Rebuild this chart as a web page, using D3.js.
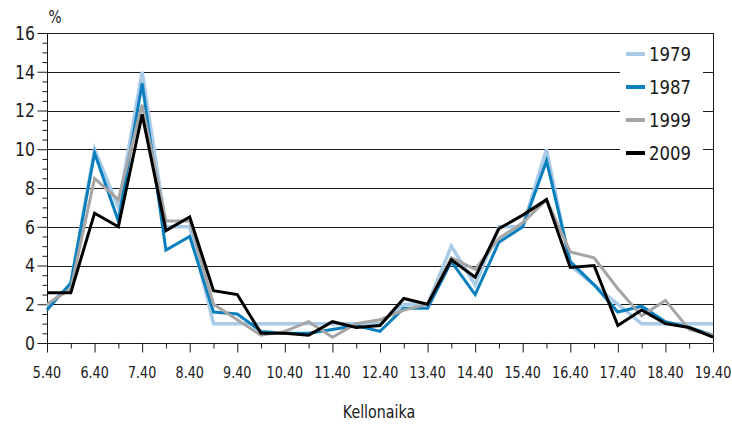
<!DOCTYPE html>
<html>
<head>
<meta charset="utf-8">
<script src="https://cdn.jsdelivr.net/npm/d3@7"></script>
<style>
  html, body { margin: 0; padding: 0; background: #fff; }
  svg text { font-family: "Liberation Sans Narrow", "DejaVu Sans Condensed", "Arial Narrow", sans-serif; fill: #1a1a1a; }
</style>
</head>
<body>
<svg id="chart" width="732" height="425"></svg>
<script>
const times = ["5.40","6.10","6.40","7.10","7.40","8.10","8.40","9.10","9.40","10.10","10.40","11.10","11.40","12.10","12.40","13.10","13.40","14.10","14.40","15.10","15.40","16.10","16.40","17.10","17.40","18.10","18.40","19.10","19.40"];
const tickLabels = ["5.40","6.40","7.40","8.40","9.40","10.40","11.40","12.40","13.40","14.40","15.40","16.40","17.40","18.40","19.40"];
const yTicks = [0,2,4,6,8,10,12,14,16];
const seriesNames = ["1979","1987","1999","2009"];
const v1979 = [1.9,3.0,10.0,7.0,14.0,6.0,6.0,1.0,1.0,1.0,1.0,1.0,1.0,1.0,1.0,2.0,2.0,5.0,3.0,6.0,6.0,10.0,4.0,3.0,2.0,1.0,1.0,1.0,1.0];
const v1987 = [1.7,3.1,9.8,6.3,13.4,4.8,5.5,1.6,1.5,0.6,0.5,0.5,0.7,0.9,0.6,1.8,1.8,4.2,2.5,5.2,6.0,9.4,4.2,3.0,1.6,1.9,1.1,0.8,0.4];
const v1999 = [2.0,2.8,8.5,7.4,12.3,6.3,6.3,2.0,1.2,0.4,0.6,1.1,0.3,1.0,1.2,1.7,2.0,4.4,3.8,5.4,6.2,7.4,4.7,4.4,2.8,1.4,2.2,0.7,0.4];
const v2009 = [2.6,2.6,6.7,6.0,11.8,5.8,6.5,2.7,2.5,0.5,0.5,0.4,1.1,0.8,0.9,2.3,2.0,4.3,3.4,5.9,6.6,7.4,3.9,4.0,0.9,1.7,1.0,0.8,0.3];
const colors = ["#a9cbe8","#0a7fbd","#a5a5a5","#000000"];
const widths = [3.5,3,3,3];

const series = [v1979, v1987, v1999, v2009].map((v, k) => ({name: seriesNames[k], values: v, color: colors[k], width: widths[k]}));

const svg = d3.select("#chart");
const mLeft = 47, mRight = 713, mTop = 33, mBottom = 343;

const x = d3.scalePoint().domain(times).range([mLeft, mRight]).padding(0);
const y = d3.scaleLinear().domain([0, 16]).range([mBottom, mTop]);

// gridlines
const grid = svg.append("g");
grid.selectAll("line").data(yTicks.filter(d => d > 0)).join("line")
  .attr("x1", mLeft).attr("x2", mRight)
  .attr("y1", d => Math.round(y(d)) + 0.5).attr("y2", d => Math.round(y(d)) + 0.5)
  .attr("stroke", "#1a1a1a").attr("stroke-width", 1);

// right border
svg.append("line").attr("x1", mRight + 0.5).attr("x2", mRight + 0.5)
  .attr("y1", Math.round(mTop)).attr("y2", mBottom).attr("stroke", "#1a1a1a");

// y axis
const minorY = d3.range(0, 16.01, 0.5);
const yAxis = d3.axisLeft(y).tickValues(minorY).tickSize(5).tickFormat("");
const gy = svg.append("g").attr("transform", `translate(${mLeft + 0.5},0)`).call(yAxis);
gy.selectAll(".tick line").attr("stroke", "#1a1a1a")
  .attr("x2", d => (d % 2 === 0) ? -10 : -5);
gy.select(".domain").attr("stroke", "#1a1a1a").attr("d", `M0,${y(16)}V${y(0)}`);
svg.append("g").selectAll("text").data(yTicks).join("text")
  .attr("transform", d => `translate(35,${y(d)}) scale(0.92,1)`)
  .attr("dy", "0.36em")
  .attr("text-anchor", "end").attr("font-size", 19).text(d => d);

// x axis
const xAxis = d3.axisBottom(x).tickSize(6).tickFormat("");
const gx = svg.append("g").attr("transform", `translate(0,${mBottom + 0.5})`).call(xAxis);
gx.selectAll(".tick line").attr("stroke", "#1a1a1a")
  .attr("y2", (d, i) => i % 2 === 0 ? 9 : 5);
gx.select(".domain").attr("stroke", "#1a1a1a").attr("d", `M${mLeft},0H${mRight}`);
svg.append("g").selectAll("text").data(tickLabels).join("text")
  .attr("transform", d => `translate(${x(d)},378) scale(0.86,1)`)
  .attr("text-anchor", "middle").attr("font-size", 16.5).text(d => d);

// axis titles
svg.append("text").attr("transform", "translate(55,23) scale(0.9,1)").attr("text-anchor", "middle").attr("font-size", 17).text("%");
svg.append("text").attr("transform", "translate(379,418) scale(0.88,1)").attr("text-anchor", "middle").attr("font-size", 18).text("Kellonaika");

// lines
const line = d3.line().x((d, i) => x(times[i])).y(d => y(d));
svg.append("g").selectAll("path").data(series).join("path")
  .attr("d", d => line(d.values))
  .attr("fill", "none")
  .attr("stroke", d => d.color)
  .attr("stroke-width", d => d.width)
  .attr("stroke-linejoin", "miter");

// legend
const lg = svg.append("g");
lg.append("rect").attr("x", 620).attr("y", 40).attr("width", 83).attr("height", 126).attr("fill", "#fff");
const items = lg.selectAll("g.item").data(series).join("g").attr("class", "item")
  .attr("transform", (d, i) => `translate(626,${54 + i * 33})`);
items.append("line").attr("x1", 0).attr("x2", 19).attr("y1", 0).attr("y2", 0)
  .attr("stroke", d => d.color).attr("stroke-width", 4);
items.append("text").attr("transform", "translate(23,0) scale(0.92,1)").attr("dy", "0.36em")
  .attr("font-size", 20).text(d => d.name);
</script>
</body>
</html>
